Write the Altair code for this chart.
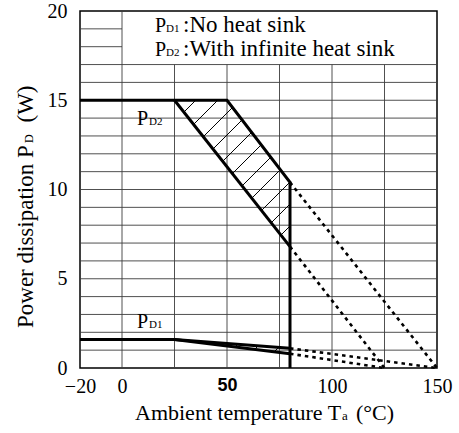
import numpy as np
import pandas as pd
import altair as alt

# ---------------- data ----------------
x_domain = [-20, 150]
y_domain = [0, 20]
x_ticks = [-20, 0, 50, 100, 150]
y_ticks = [0, 5, 10, 15, 20]

# grid
vgrid_T = [0, 25, 50, 75, 100, 125]
vgrid_top = [20, 17, 17, 17, 17, 17]
hgrid_P = list(range(1, 20))
hgrid_right = [150] * 17 + [0, 0]

# PD2 (with infinite heat sink)
pd2_upper_T = [-20, 50, 80, 80]
pd2_upper_P = [15, 15, 10.4, 0]
pd2_lower_T = [25, 80]
pd2_lower_P = [15, 6.8]
pd2_upper_ext_T = [80, 150]
pd2_upper_ext_P = [10.4, 0]
pd2_lower_ext_T = [80, 125]
pd2_lower_ext_P = [6.8, 0]

# PD1 (no heat sink)
pd1_upper_T = [-20, 25, 80]
pd1_upper_P = [1.6, 1.6, 1.1]
pd1_lower_T = [25, 80]
pd1_lower_P = [1.6, 0.8]
pd1_upper_ext_T = [80, 150]
pd1_upper_ext_P = [1.1, 0]
pd1_lower_ext_T = [80, 125]
pd1_lower_ext_P = [0.8, 0]

# ---------------- layout ----------------
W, H = 357, 357
OX, OY = 80, 11
PX_T = W / (x_domain[1] - x_domain[0])
PX_P = H / (y_domain[1] - y_domain[0])
SERIF = "Liberation Serif"

# ---------------- tables ----------------
grid = pd.DataFrame(
    {"x": vgrid_T, "x2": vgrid_T, "y": [0] * len(vgrid_T), "y2": vgrid_top}
)
grid = pd.concat(
    [grid, pd.DataFrame({"x": [-20] * len(hgrid_P), "x2": hgrid_right, "y": hgrid_P, "y2": hgrid_P})],
    ignore_index=True,
)

rows = []
def add(name, style, Ts, Ps):
    for i, (t, p) in enumerate(zip(Ts, Ps)):
        rows.append({"series": name, "style": style, "i": i, "x": t, "y": p})

add("pd2u", "solid", pd2_upper_T, pd2_upper_P)
add("pd2l", "solid", pd2_lower_T, pd2_lower_P)
add("pd1u", "solid", pd1_upper_T, pd1_upper_P)
add("pd1l", "solid", pd1_lower_T, pd1_lower_P)
add("pd2ue", "dot", pd2_upper_ext_T, pd2_upper_ext_P)
add("pd2le", "dot", pd2_lower_ext_T, pd2_lower_ext_P)
add("pd1ue", "dot", pd1_upper_ext_T, pd1_upper_ext_P)
add("pd1le", "dot", pd1_lower_ext_T, pd1_lower_ext_P)
curves = pd.DataFrame(rows)

# hatch regions (polygons built from the curve arrays)
poly2 = [(pd2_lower_T[0], pd2_lower_P[0])] + list(zip(pd2_upper_T[1:3], pd2_upper_P[1:3])) + [
    (pd2_lower_T[-1], pd2_lower_P[-1])
]
poly1 = [
    (pd1_lower_T[0], pd1_lower_P[0]),
    (pd1_upper_T[-1], pd1_upper_P[-1]),
    (pd1_lower_T[-1], pd1_lower_P[-1]),
]

def hatch(poly, k_start=-194.0, k_step=22.0):
    f = lambda T, P: PX_T * T - PX_P * P
    ks = [f(T, P) for T, P in poly]
    segs = []
    k = k_start
    while k < max(ks):
        if k > min(ks):
            pts = []
            n = len(poly)
            for j in range(n):
                (T1, P1), (T2, P2) = poly[j], poly[(j + 1) % n]
                k1, k2 = f(T1, P1), f(T2, P2)
                if (k1 - k) * (k2 - k) < 0:
                    t = (k - k1) / (k2 - k1)
                    pts.append((T1 + t * (T2 - T1), P1 + t * (P2 - P1)))
            if len(pts) >= 2:
                pts.sort()
                segs.append({"x": pts[0][0], "y": pts[0][1], "x2": pts[-1][0], "y2": pts[-1][1]})
        k += k_step
    return segs

hatch_df = pd.DataFrame(hatch(poly2) + hatch(poly1))

# ---------------- scales / axes ----------------
xs = alt.Scale(domain=x_domain, nice=False, zero=False)
ys = alt.Scale(domain=y_domain, nice=False, zero=False)
is50 = "datum.value == 50"
xaxis = alt.Axis(
    values=x_ticks, grid=False, ticks=False, domain=False, title=None,
    labelFlush=False, labelPadding=8, labelColor="black",
    labelFont={"condition": {"test": is50, "value": "Liberation Sans"}, "value": SERIF},
    labelFontWeight={"condition": {"test": is50, "value": "bold"}, "value": "normal"},
    labelFontSize={"condition": {"test": is50, "value": 18}, "value": 20},
)
yaxis = alt.Axis(
    values=y_ticks, grid=False, ticks=False, domain=False, title=None,
    labelPadding=13, labelFont=SERIF, labelFontSize=20, labelColor="black",
)

def X(f="x"):
    return alt.X(f + ":Q", scale=xs, axis=xaxis)
def Y(f="y"):
    return alt.Y(f + ":Q", scale=ys, axis=yaxis)

grid_layer = alt.Chart(grid).mark_rule(color="#3c3c3c", strokeWidth=0.9).encode(
    x=X(), x2="x2:Q", y=Y(), y2="y2:Q"
)
hatch_layer = alt.Chart(hatch_df).mark_rule(color="black", strokeWidth=1).encode(
    x=X(), x2="x2:Q", y=Y(), y2="y2:Q"
)
solid_layer = alt.Chart(curves).transform_filter("datum.style == 'solid'").mark_line(
    color="black", strokeWidth=3, strokeJoin="miter"
).encode(x=X(), y=Y(), detail="series:N", order="i:Q")
dot_layer = alt.Chart(curves).transform_filter("datum.style == 'dot'").mark_line(
    color="black", strokeWidth=2.6, strokeDash=[3.5, 4]
).encode(x=X(), y=Y(), detail="series:N", order="i:Q")

one = pd.DataFrame({"a": [0]})
def label(text, px, py, size, align="left", angle=0, font=SERIF, baseline="alphabetic"):
    kw = dict(text=text, fontSize=size, font=font, align=align, baseline=baseline, color="black")
    if angle:
        kw["angle"] = angle
    return alt.Chart(one).mark_text(**kw).encode(x=alt.value(px - OX), y=alt.value(py - OY))

texts = [
    # legend box
    label("P", 155, 32, 20), label("D1", 166, 32, 11), label(":No heat sink", 183, 32, 23),
    label("P", 155, 56, 20), label("D2", 166, 56, 11), label(":With infinite heat sink", 183, 56, 23),
    # curve labels
    label("P", 137, 125, 20), label("D2", 149, 125, 11),
    label("P", 137, 328, 20), label("D1", 149, 328, 11),
    # x title
    label("Ambient temperature T", 135, 420, 22), label("a", 342, 420, 13), label("(°C)", 356, 420, 22),
    # y title (rotated)
    label("Power dissipation P", 33, 328, 23, angle=270), label("D", 33, 143, 12, angle=270),
    label("(W)", 33, 104, 23, angle=270, align="center"),
]

chart = alt.layer(grid_layer, hatch_layer, solid_layer, dot_layer, *texts).properties(
    width=W, height=H,
    padding={"left": OX, "top": OY, "right": 459 - OX - W, "bottom": 433 - OY - H},
    autosize=alt.AutoSizeParams(type="none"),
    background="white",
).configure_view(stroke="black", strokeWidth=1.5)

chart.save("out.html", embed_options={"renderer": "svg", "actions": False})
